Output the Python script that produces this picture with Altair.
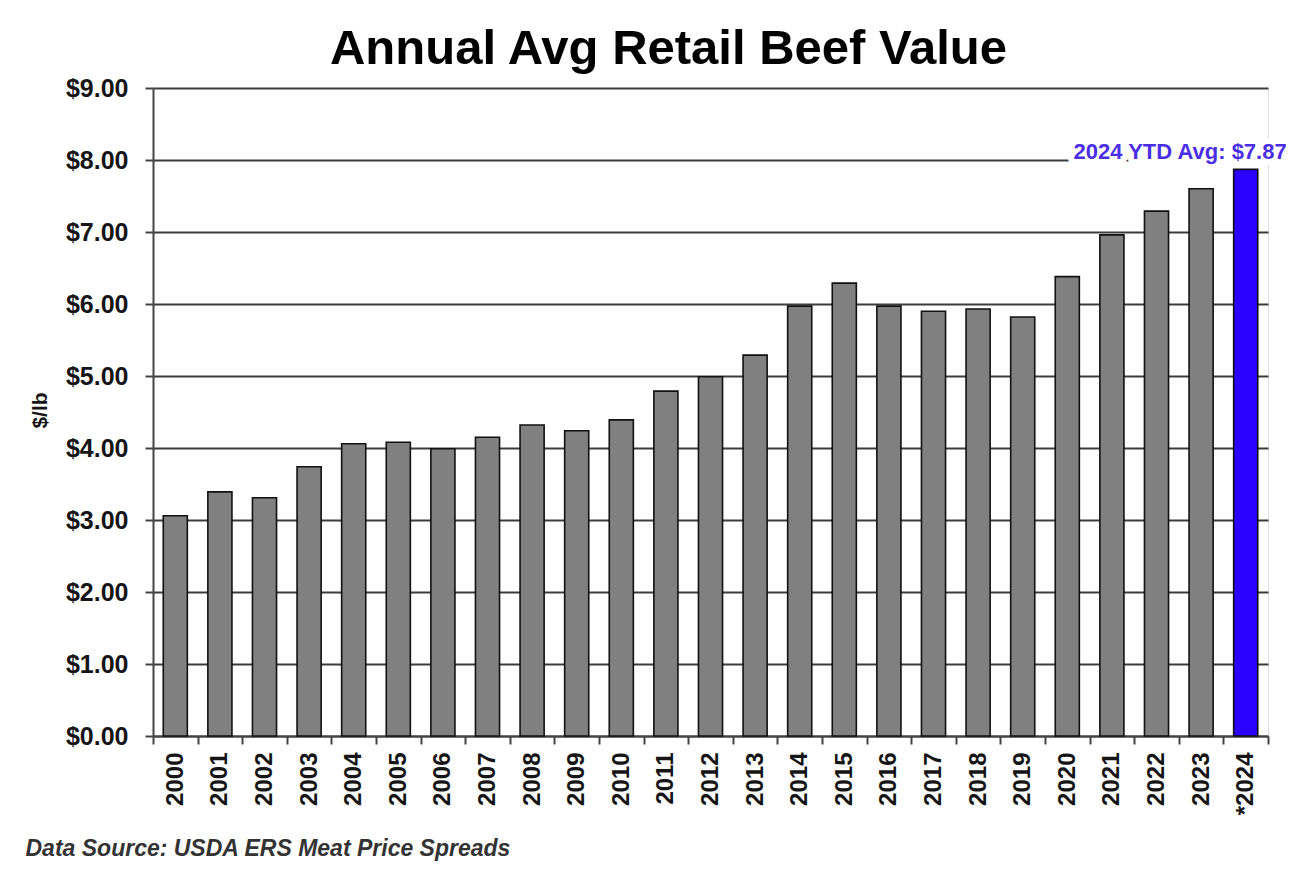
import altair as alt
import pandas as pd

years = ["2000", "2001", "2002", "2003", "2004", "2005", "2006", "2007", "2008",
         "2009", "2010", "2011", "2012", "2013", "2014", "2015", "2016", "2017",
         "2018", "2019", "2020", "2021", "2022", "2023", "*2024"]
values = [3.06, 3.39, 3.31, 3.74, 4.06, 4.08, 3.99, 4.15, 4.32, 4.24, 4.39, 4.79,
          4.99, 5.29, 5.97, 6.29, 5.97, 5.90, 5.93, 5.82, 6.38, 6.96, 7.29, 7.60, 7.87]
groups = ["annual"] * 24 + ["ytd"]
y_ticks = [0, 1, 2, 3, 4, 5, 6, 7, 8, 9]

title_text = "Annual Avg Retail Beef Value"
y_title = "$/lb"
source_text = "Data Source: USDA ERS Meat Price Spreads"
ann_year = ["*2024"]
ann_value = [7.87]
ann_label = ["2024 YTD Avg: $7.87"]

FONT = "Liberation Sans"

df = pd.DataFrame({"year": years, "value": values, "group": groups})
df_ann = pd.DataFrame({"year": ann_year, "value": ann_value, "label": ann_label})

x_enc = alt.X(
    "year:N", sort=years,
    scale=alt.Scale(paddingInner=0, paddingOuter=0),
    axis=alt.Axis(
        title=source_text, titleX=-128, titleY=112, titleAlign="left",
        titleBaseline="middle", titleFont=FONT, titleFontSize=23,
        titleFontStyle="italic", titleFontWeight="bold", titleColor="#333333",
        labelAngle=-90, labelFont=FONT, labelFontSize=24, labelFontWeight="bold",
        labelColor="#151515", labelPadding=8, tickBand="extent", tickSize=8,
        tickWidth=2, tickColor="#444444", domainColor="#444444", domainWidth=2,
        grid=False,
    ),
)
y_enc = alt.Y(
    "value:Q",
    scale=alt.Scale(domain=[0, 9], nice=False, zero=True),
    axis=alt.Axis(
        values=y_ticks, format="$.2f", title=y_title, titleFont=FONT,
        titleFontSize=21, titleFontWeight="bold", titleColor="#151515",
        titleAngle=-90, titleX=-113, titleY=322, titleAlign="center",
        titleBaseline="middle", labelFont=FONT, labelFontSize=25,
        labelFontWeight="bold", labelColor="#151515", labelPadding=17,
        tickSize=8, tickWidth=2, tickColor="#444444", domainColor="#444444",
        domainWidth=2, grid=True, gridColor="#3c3c3c", gridWidth=1.8,
        labelFlush=False,
    ),
)

bars = alt.Chart(df).mark_bar(
    width=alt.RelativeBandSize(0.54), stroke="#111111", strokeWidth=1.6
).encode(
    x=x_enc, y=y_enc,
    color=alt.Color("group:N", scale=alt.Scale(domain=["annual", "ytd"],
                    range=["#808080", "#2a00ff"]), legend=None),
)

halo = alt.Chart(df_ann).mark_text(
    align="right", baseline="middle", dx=41, dy=-17, font=FONT, fontSize=22,
    fontWeight="bold", fill="white", stroke="white", strokeWidth=12,
    strokeJoin="round",
).encode(x=x_enc, y=y_enc, text="label:N")

label = alt.Chart(df_ann).mark_text(
    align="right", baseline="middle", dx=41, dy=-17, font=FONT, fontSize=22,
    fontWeight="bold", color="#4a2ee6",
).encode(x=x_enc, y=y_enc, text="label:N")

chart = alt.layer(bars, halo, label).properties(
    width=1115, height=648,
    title=alt.TitleParams(title_text, font=FONT, fontSize=49, fontWeight="bold",
                          color="#000000", anchor="middle", dx=-42, offset=2),
    autosize=alt.AutoSizeParams(type="none"),
    padding={"left": 145, "top": 80, "right": 18, "bottom": 127},
).configure_view(stroke="#a0a0a0", strokeWidth=2).configure(background="white")

chart.save("out.html", embed_options={"renderer": "svg", "actions": False})
